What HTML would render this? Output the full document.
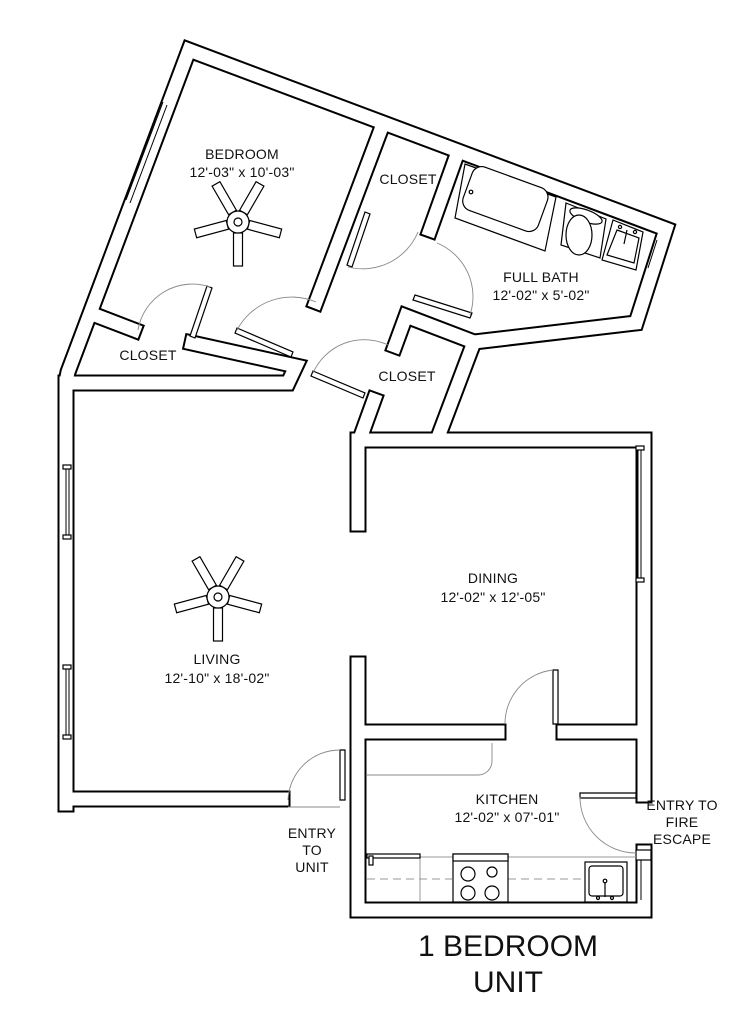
<!DOCTYPE html>
<html><head><meta charset="utf-8"><style>
html,body{margin:0;padding:0;background:#fff;}
svg{display:block;}
text{font-family:"Liberation Sans",Arial,sans-serif;fill:#111;}
</style></head><body>
<svg width="744" height="1024" viewBox="0 0 744 1024" xmlns="http://www.w3.org/2000/svg">
<g fill="none" stroke-linejoin="miter" stroke-linecap="square">
<g stroke="#000" stroke-width="17">
<polyline points="66,804 66,382 68,372 189,50 666,229 636,323 474,342 437,440 644,440 644,582"/>
<polyline points="474,342 406,316 395,346"/>
<polyline points="644,582 644,795"/>
<polyline points="644,852 644,910 358,910 358,664"/>
<polyline points="358,524 358,440 437,440"/>
<polyline points="361,436 374,400"/>
<polyline points="380,132 316,302"/>
<polyline points="455,160 430,230"/>
<polyline points="66,383 288,383 296,366 192,343"/>
<polyline points="100,317 134,330"/>
<polyline points="66,799 282,799"/>
<polyline points="358,732 498,732"/>
<polyline points="564,732 644,732"/>
</g>
<g stroke="#fff" stroke-width="13">
<polyline points="66,804 66,382 68,372 189,50 666,229 636,323 474,342 437,440 644,440 644,582"/>
<polyline points="474,342 406,316 395,346"/>
<polyline points="644,582 644,795"/>
<polyline points="644,852 644,910 358,910 358,664"/>
<polyline points="358,524 358,440 437,440"/>
<polyline points="361,436 374,400"/>
<polyline points="380,132 316,302"/>
<polyline points="455,160 430,230"/>
<polyline points="66,383 288,383 296,366 192,343"/>
<polyline points="100,317 134,330"/>
<polyline points="66,799 282,799"/>
<polyline points="358,732 498,732"/>
<polyline points="564,732 644,732"/>
</g>
</g>
<!-- windows -->
<g stroke="#000" stroke-width="1" fill="none">
<line x1="167" y1="105" x2="130" y2="203"/><line x1="163" y1="102" x2="126" y2="200"/>
<line x1="66" y1="468" x2="66" y2="536"/><line x1="69" y1="468" x2="69" y2="536"/>
<line x1="66" y1="668" x2="66" y2="736"/><line x1="69" y1="668" x2="69" y2="736"/>
<line x1="641" y1="450" x2="641" y2="580"/><line x1="638" y1="450" x2="638" y2="580"/>
<line x1="657" y1="240" x2="648" y2="268"/>
<line x1="641" y1="860" x2="641" y2="900"/>
</g>
<g stroke="#000" stroke-width="1.2" fill="#fff">
<rect x="63" y="465" width="8" height="4"/><rect x="63" y="535" width="8" height="4"/>
<rect x="63" y="665" width="8" height="4"/><rect x="63" y="735" width="8" height="4"/>
<rect x="636" y="446" width="8" height="4"/><rect x="636" y="578" width="8" height="4"/>
<rect x="636" y="850" width="15" height="10"/>
</g>
<!-- doors -->
<g stroke="#000" stroke-width="1.2" fill="#fff">
<polygon points="340,750 345,750 345,800 340,800"/>
<polygon points="553,670 558,670 558,724 553,724"/>
<polygon points="580,793 636,793 636,798 580,798"/>
<polygon points="313,371 365,393 363,398 311,376"/>
<polygon points="415,295 472,313 470,318 413,300"/>
<polygon points="347,265 365,212 370,214 352,267"/>
<polygon points="237,328 293,352 291,357 235,333"/>
<polygon points="190,336 207,286 212,288 195,338"/>
</g>
<g stroke="#888" stroke-width="0.9" fill="none">
<path d="M340,750 A52,52 0 0 0 288,800"/>
<path d="M553,670 A54,54 0 0 0 505,724"/>
<path d="M580,797 A56,56 0 0 0 636,853"/>
<path d="M313,373 A56,56 0 0 1 388,345"/>
<path d="M470,315 A58,58 0 0 0 437,243"/>
<path d="M348,267 A60,60 0 0 0 418,232"/>
<path d="M237,330 A62,62 0 0 1 316,302"/>
<path d="M210,287 A55,55 0 0 0 138,330"/>
<path d="M367,775 L478,775 A14,14 0 0 0 492,761 L492,743"/>
<line x1="288" y1="807" x2="340" y2="807"/>
<line x1="455" y1="218" x2="545" y2="248"/>
</g>
<!-- bath fixtures -->
<g stroke="#000" stroke-width="1.2" fill="#fff">
<polygon points="465,164 556,197 545,251 455,218"/>
<rect x="465" y="176" width="80" height="46" rx="10" transform="rotate(20 505 200)"/>
<circle cx="471" cy="192" r="1.8"/>
<polygon points="566,203 606,219 600,258 561,245"/>
<ellipse cx="586" cy="216" rx="17" ry="6" transform="rotate(20 586 216)"/>
<ellipse cx="579" cy="235" rx="13" ry="20"/>
<polygon points="613,220 643,232 636,270 602,260"/>
<polygon points="617,230 639,238 634,263 607,255"/>
<circle cx="620" cy="227" r="1.6"/><circle cx="635" cy="232" r="1.6"/><line x1="627" y1="230" x2="624" y2="244"/>
</g>
<!-- kitchen fixtures -->
<g stroke="#999" stroke-width="1" fill="none">
<line x1="367" y1="857" x2="636" y2="857"/>
<line x1="367" y1="879" x2="452" y2="879" stroke-dasharray="8,5"/>
<line x1="508" y1="879" x2="585" y2="879" stroke-dasharray="8,5"/>
<line x1="420" y1="857" x2="420" y2="902"/>
</g>
<g stroke="#000" stroke-width="1.2" fill="#fff">
<rect x="367" y="854" width="53" height="4"/>
<rect x="369" y="856" width="4" height="9"/>
<rect x="453" y="854" width="55" height="48"/>
<rect x="453" y="854" width="55" height="7"/>
<circle cx="468" cy="874" r="7"/><circle cx="492" cy="872" r="5"/>
<circle cx="468" cy="893" r="7"/><circle cx="492" cy="893" r="7"/>
<rect x="585" y="862" width="42" height="40"/>
<rect x="589" y="866" width="34" height="30" rx="3"/>
<line x1="605" y1="882" x2="605" y2="897"/><circle cx="605" cy="881" r="1.8"/>
<circle cx="598" cy="898" r="1.5"/><circle cx="612" cy="898" r="1.5"/>
</g>
<!-- fans -->
<g stroke="#000" stroke-width="1.2" fill="#fff">
<g transform="translate(238,222)">
<rect x="-4.5" y="-44" width="9" height="33" transform="rotate(-30)"/>
<rect x="-4.5" y="-44" width="9" height="33" transform="rotate(30)"/>
<rect x="-4.5" y="-44" width="9" height="33" transform="rotate(105)"/>
<rect x="-4.5" y="-44" width="9" height="33" transform="rotate(180)"/>
<rect x="-4.5" y="-44" width="9" height="33" transform="rotate(-105)"/>
<circle r="11"/><circle r="4"/>
</g>
<g transform="translate(218,597)">
<rect x="-4.5" y="-44" width="9" height="33" transform="rotate(-30)"/>
<rect x="-4.5" y="-44" width="9" height="33" transform="rotate(30)"/>
<rect x="-4.5" y="-44" width="9" height="33" transform="rotate(105)"/>
<rect x="-4.5" y="-44" width="9" height="33" transform="rotate(180)"/>
<rect x="-4.5" y="-44" width="9" height="33" transform="rotate(-105)"/>
<circle r="11"/><circle r="4"/>
</g>
</g>
<!-- labels -->
<g font-size="14" text-anchor="middle" letter-spacing="0.2">
<text x="242" y="159">BEDROOM</text>
<text x="242" y="177">12'-03" x 10'-03"</text>
<text x="408" y="184">CLOSET</text>
<text x="148" y="360">CLOSET</text>
<text x="407" y="381">CLOSET</text>
<text x="541" y="282">FULL BATH</text>
<text x="541" y="300">12'-02" x 5'-02"</text>
<text x="493" y="583">DINING</text>
<text x="493" y="602">12'-02" x 12'-05"</text>
<text x="217" y="664">LIVING</text>
<text x="217" y="683">12'-10" x 18'-02"</text>
<text x="507" y="804">KITCHEN</text>
<text x="507" y="822">12'-02" x 07'-01"</text>
<text x="312" y="838">ENTRY</text>
<text x="312" y="855">TO</text>
<text x="312" y="872">UNIT</text>
<text x="682" y="810">ENTRY TO</text>
<text x="682" y="827">FIRE</text>
<text x="682" y="844">ESCAPE</text>
</g>
<g font-size="30" text-anchor="middle">
<text x="508" y="956">1 BEDROOM</text>
<text x="508" y="992">UNIT</text>
</g>
</svg>
</body></html>
